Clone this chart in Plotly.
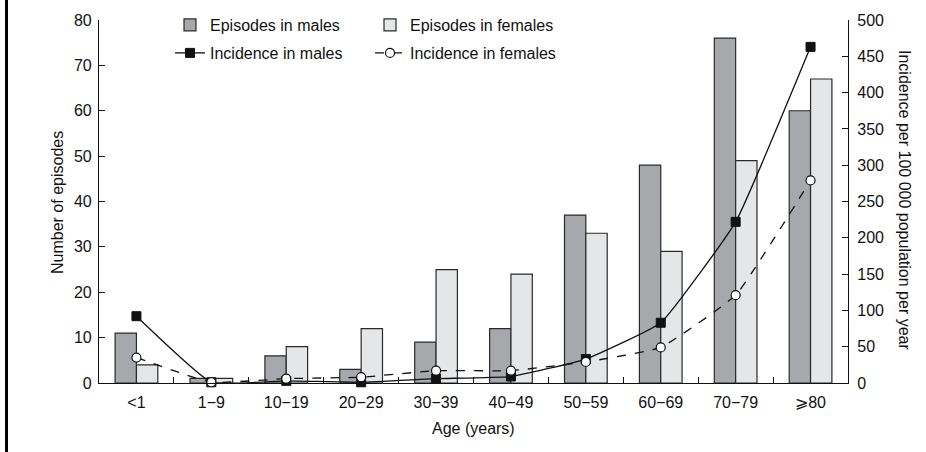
import plotly.graph_objects as go

# Age groups and counts
age_groups = ["<1", "1\u22129", "10\u221219", "20\u221229", "30\u221239",
              "40\u221249", "50\u221259", "60\u221269", "70\u221279", "\u2a7e80"]
episodes_males = [11, 1, 6, 3, 9, 12, 37, 48, 76, 60]
episodes_females = [4, 1, 8, 12, 25, 24, 33, 29, 49, 67]
incidence_males = [92, 1, 3, 1, 6, 9, 33, 83, 222, 463]
incidence_females = [35, 1, 6, 8, 17, 17, 29, 49, 121, 279]

FONT = "Liberation Sans, Arial, Helvetica, sans-serif"
EDGE = "#2a2a2a"
INK = "#111111"
FS = 16

fig = go.Figure()

fig.add_trace(go.Bar(
    x=age_groups, y=episodes_males, name="Episodes in males",
    marker=dict(color="#a7a8ac", line=dict(color=EDGE, width=1.2)),
    legend="legend", yaxis="y",
))
fig.add_trace(go.Bar(
    x=age_groups, y=episodes_females, name="Episodes in females",
    marker=dict(color="#e5e6e8", line=dict(color=EDGE, width=1.2)),
    legend="legend", yaxis="y",
))
fig.add_trace(go.Scatter(
    x=age_groups, y=incidence_males, name="Incidence in males",
    mode="lines+markers", yaxis="y2", legend="legend2",
    line=dict(color=INK, width=1.3, shape="spline", smoothing=0.35),
    marker=dict(symbol="square", size=9, color=INK, line=dict(color=INK, width=1)),
    cliponaxis=False,
))
fig.add_trace(go.Scatter(
    x=age_groups, y=incidence_females, name="Incidence in females",
    mode="lines+markers", yaxis="y2", legend="legend2",
    line=dict(color=INK, width=1.3, dash="dash", shape="spline", smoothing=0.35),
    marker=dict(symbol="circle", size=9, color="white", line=dict(color=INK, width=1.2)),
    cliponaxis=False,
))

# Plot area: x 99..848 px, y 20..383 px
PX0, PW, PY0, PH = 99, 749, 20, 363


def px_x(px):
    return (px - PX0) / PW


def px_y(py):
    return 1 - (py - PY0) / PH


legend_common = dict(
    orientation="h", xref="paper", yref="paper",
    xanchor="left", yanchor="middle",
    font=dict(family=FONT, size=FS, color=INK),
    entrywidth=155, entrywidthmode="pixels",
    bgcolor="rgba(0,0,0,0)", borderwidth=0, itemclick=False,
)

axis_common = dict(
    showline=True, linecolor=INK, linewidth=1.2,
    ticks="inside", ticklen=6, tickcolor=INK, tickwidth=1.2,
    showgrid=False, zeroline=False,
    tickfont=dict(size=FS, color=INK),
)

fig.update_layout(
    width=926, height=452,
    margin=dict(l=99, r=78, t=20, b=69, autoexpand=False),
    paper_bgcolor="white", plot_bgcolor="white",
    font=dict(family=FONT, size=FS, color=INK),
    barmode="group", bargap=0.43, bargroupgap=0,
    showlegend=True,
    legend=dict(x=px_x(170), y=px_y(25), **legend_common),
    legend2=dict(x=px_x(170), y=px_y(53), **legend_common),
    xaxis=dict(type="category", range=[-0.5, 9.5], tickson="boundaries",
               ticklabelstandoff=5, **axis_common),
    yaxis=dict(range=[0, 80], dtick=10, ticklabelstandoff=3, **axis_common),
    yaxis2=dict(range=[0, 500], dtick=50, overlaying="y", side="right",
                ticklabelstandoff=5, **axis_common),
)

# Axis titles
title_font = dict(family=FONT, size=FS, color=INK)
fig.add_annotation(text="Age (years)", xref="paper", yref="paper",
                   x=px_x(473), y=px_y(428), showarrow=False,
                   xanchor="center", yanchor="middle", font=title_font)
fig.add_annotation(text="Number of episodes", xref="paper", yref="paper",
                   x=px_x(57), y=px_y(203), textangle=-90, showarrow=False,
                   xanchor="center", yanchor="middle", font=title_font)
fig.add_annotation(text="Incidence per 100 000 population per year",
                   xref="paper", yref="paper", x=px_x(905), y=px_y(200),
                   textangle=90, showarrow=False,
                   xanchor="center", yanchor="middle", font=title_font)

# Heavy rule along the left edge of the figure
fig.add_shape(
    type="line", xref="paper", yref="paper",
    x0=px_x(6.5), x1=px_x(6.5), y0=-1.0, y1=2.0,
    line=dict(color="black", width=3),
)

fig.write_html("out.html")
